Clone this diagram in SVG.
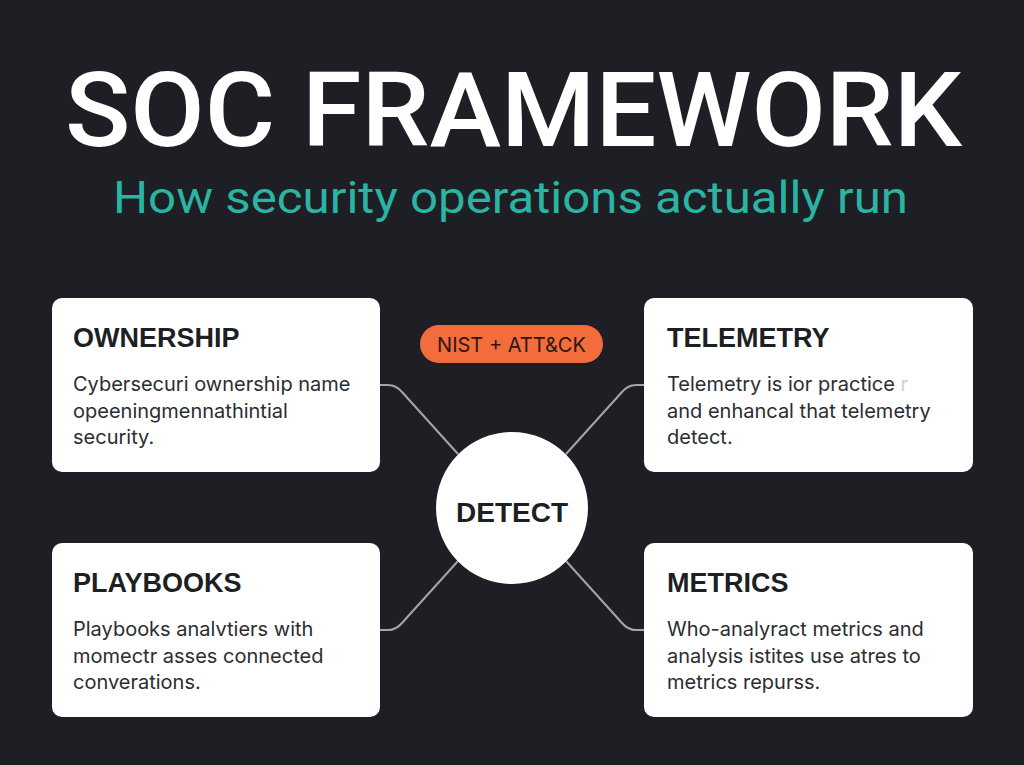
<svg xmlns="http://www.w3.org/2000/svg" width="1024" height="765" viewBox="0 0 1024 765">
<style>
.card{fill:#ffffff}
.ttl{font-family:"Liberation Sans",Arial,sans-serif;font-weight:700;font-size:27px;fill:#1d1f23}
.body{font-family:Inter,"Liberation Sans",sans-serif;font-size:20px;fill:#2b2d31}
.conn{fill:none;stroke:#a3a6ab;stroke-width:2}
</style>
<rect width="1024" height="765" fill="#1d1f24"/>
<g id="title">
<text x="65" y="146" font-family="Roboto,'Liberation Sans',sans-serif" font-weight="500" font-size="104" fill="#ffffff" textLength="897" lengthAdjust="spacingAndGlyphs">SOC FRAMEWORK</text>
<text x="113" y="213" font-family="Roboto,'Liberation Sans',sans-serif" font-size="44" fill="#2bb3a3" textLength="795" lengthAdjust="spacingAndGlyphs">How security operations actually run</text>
</g>
<g id="connectors">
<path class="conn" d="M380,385 L388,385 Q396,385 402,392 L458,454"/>
<path class="conn" d="M644,385 L636,385 Q628,385 622,392 L566,454"/>
<path class="conn" d="M380,630 L388,630 Q396,630 402,623 L458,561"/>
<path class="conn" d="M644,630 L636,630 Q628,630 622,623 L566,561"/>
</g>
<g id="ownership">
<rect class="card" x="52" y="298" width="328" height="174" rx="10"/>
<text class="ttl" x="73" y="347">OWNERSHIP</text>
<text class="body" x="73" y="391">Cybersecuri ownership name</text>
<text class="body" x="73" y="418">opeeningmennathintial</text>
<text class="body" x="73" y="444">security.</text>
</g>
<g id="telemetry">
<rect class="card" x="644" y="298" width="329" height="174" rx="10"/>
<text class="ttl" x="667" y="347">TELEMETRY</text>
<text class="body" x="667" y="391">Telemetry is ior practice <tspan fill="#d0d2d5">r</tspan></text>
<text class="body" x="667" y="418">and enhancal that telemetry</text>
<text class="body" x="667" y="444">detect.</text>
</g>
<g id="playbooks">
<rect class="card" x="52" y="543" width="328" height="174" rx="10"/>
<text class="ttl" x="73" y="592">PLAYBOOKS</text>
<text class="body" x="73" y="636">Playbooks analvtiers with</text>
<text class="body" x="73" y="663">momectr asses connected</text>
<text class="body" x="73" y="689">converations.</text>
</g>
<g id="metrics">
<rect class="card" x="644" y="543" width="329" height="174" rx="10"/>
<text class="ttl" x="667" y="592">METRICS</text>
<text class="body" x="667" y="636">Who-analyract metrics and</text>
<text class="body" x="667" y="663">analysis istites use atres to</text>
<text class="body" x="667" y="689">metrics repurss.</text>
</g>
<g id="nist">
<rect x="420" y="325" width="183" height="38" rx="19" fill="#f26c3c"/>
<text x="511.5" y="352" text-anchor="middle" font-family="Inter,'Liberation Sans',sans-serif" font-size="20" fill="#2a1a14">NIST + ATT&amp;CK</text>
</g>
<g id="detect">
<circle cx="512" cy="508" r="76" fill="#ffffff"/>
<text x="512" y="522" text-anchor="middle" font-family="'Liberation Sans',Arial,sans-serif" font-weight="700" font-size="28" fill="#1d1f23">DETECT</text>
</g>
</svg>
